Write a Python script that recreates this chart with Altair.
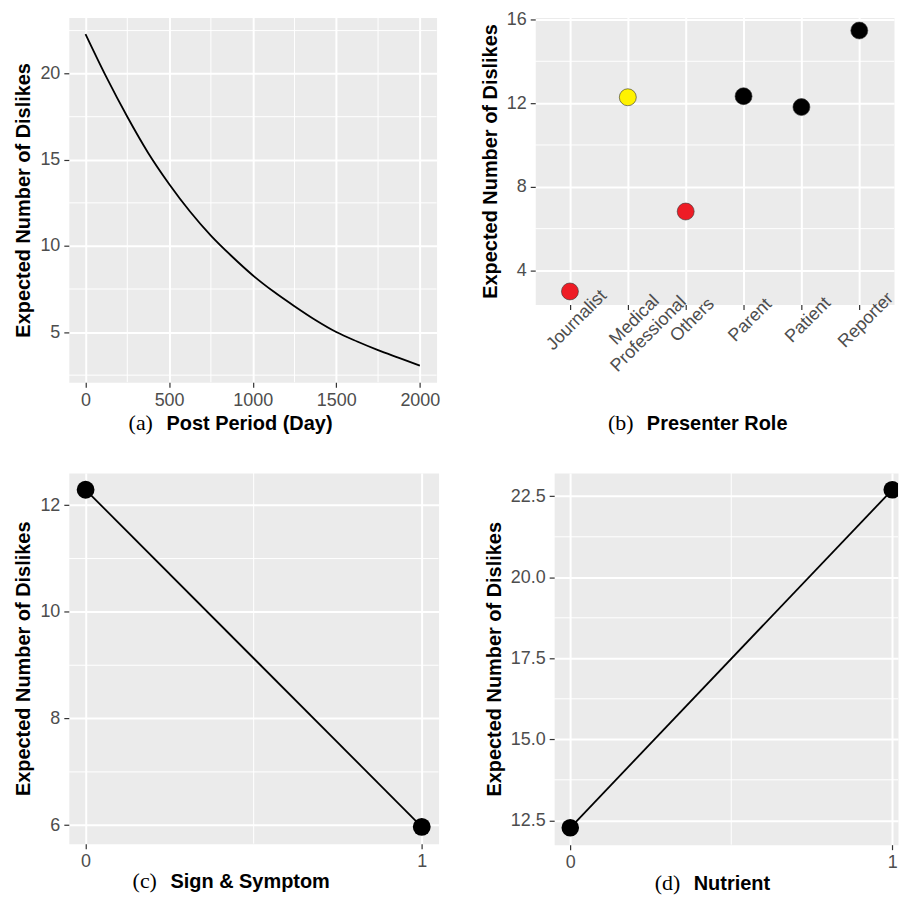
import altair as alt
import pandas as pd

# ---------------- data ----------------
post_days = [0, 125, 250, 375, 500, 625, 750, 875, 1000, 1125, 1250, 1375, 1500, 1625, 1750, 1875, 2000]
dislikes_by_day = [22.3, 19.8, 17.5, 15.4, 13.6, 12.0, 10.6, 9.4, 8.3, 7.35, 6.5, 5.7, 5.0, 4.45, 3.95, 3.5, 3.05]

roles = ["Journalist", "Medical Professional", "Others", "Parent", "Patient", "Reporter"]
dislikes_by_role = [3.0, 12.28, 6.82, 12.33, 11.81, 15.47]
role_fill = ["#EE1C25", "#FFF200", "#EE1C25", "#000000", "#000000", "#000000"]

sign_symptom = [0, 1]
dislikes_sign = [12.29, 5.97]

nutrient = [0, 1]
dislikes_nutrient = [12.27, 22.70]

panel_tags = ["(a)", "(b)", "(c)", "(d)"]
panel_titles = ["Post Period (Day)", "Presenter Role", "Sign & Symptom", "Nutrient"]

YTITLE = "Expected Number of Dislikes"
SANS = "Liberation Sans"
SERIF = "Liberation Serif"
BG = "#EBEBEB"


def expand(vals, mult=0.05):
    lo, hi = min(vals), max(vals)
    pad = (hi - lo) * mult
    return [lo - pad, hi + pad]


def minor_x(vals, scale, axis):
    return alt.Chart(pd.DataFrame({"m": vals})).mark_rule(color="white", strokeWidth=1).encode(
        x=alt.X("m:Q", scale=scale, axis=axis))


def minor_y(vals, scale, axis):
    return alt.Chart(pd.DataFrame({"m": vals})).mark_rule(color="white", strokeWidth=1).encode(
        y=alt.Y("m:Q", scale=scale, axis=axis))


def caption(i, x_tag, x_title, y):
    t1 = alt.Chart(pd.DataFrame({"t": [panel_tags[i]]})).mark_text(
        font=SERIF, fontSize=22, align="left", baseline="alphabetic", color="black"
    ).encode(text="t:N", x=alt.value(x_tag), y=alt.value(y))
    t2 = alt.Chart(pd.DataFrame({"t": [panel_titles[i]]})).mark_text(
        font=SANS, fontSize=20, fontWeight="bold", align="left", baseline="alphabetic", color="black"
    ).encode(text="t:N", x=alt.value(x_title), y=alt.value(y))
    return [t1, t2]


# ---------------- panel (a) ----------------
xs_a = alt.Scale(domain=expand(post_days), nice=False, zero=False)
ys_a = alt.Scale(domain=expand(dislikes_by_day), nice=False, zero=False)
xa_a = alt.Axis(values=[0, 500, 1000, 1500, 2000], title=None, format="d")
ya_a = alt.Axis(values=[5, 10, 15, 20], title=YTITLE)
df_a = pd.DataFrame({"day": post_days, "val": dislikes_by_day})
line_a = alt.Chart(df_a).mark_line(color="black", strokeWidth=1.8, interpolate="monotone").encode(
    x=alt.X("day:Q", scale=xs_a, axis=xa_a),
    y=alt.Y("val:Q", scale=ys_a, axis=ya_a),
)
A = alt.layer(
    minor_x([250, 750, 1250, 1750], xs_a, xa_a), minor_y([2.5, 7.5, 12.5, 17.5, 22.5], ys_a, ya_a),
    line_a, *caption(0, 60, 98, 414)
).properties(width=369, height=366)

# ---------------- panel (b) ----------------
ys_b = alt.Scale(domain=expand(dislikes_by_role), nice=False, zero=False)
ya_b = alt.Axis(values=[4, 8, 12, 16], title=YTITLE)
df_b = pd.DataFrame({"role": roles, "val": dislikes_by_role, "fill": role_fill})
pts_b = alt.Chart(df_b).mark_circle(size=290, opacity=1, stroke="#333333", strokeWidth=0.6).encode(
    x=alt.X("role:N", sort=roles, scale=alt.Scale(type="point", padding=0.6),
            axis=alt.Axis(title=None, grid=True, labelAngle=-45, labelAlign="center",
                          labelBaseline="top", labelOverlap=False, labelPadding=4,
                          labelExpr="datum.value == 'Medical Professional' ? ['Medical', 'Professional'] : datum.label")),
    y=alt.Y("val:Q", scale=ys_b, axis=ya_b),
    fill=alt.Fill("fill:N", scale=None),
)
B = alt.layer(
    minor_y([6, 10, 14], ys_b, ya_b), pts_b, *caption(1, 73, 112, 414)
).properties(width=360, height=288)

# ---------------- panel (c) ----------------
xs_c = alt.Scale(domain=expand(sign_symptom), nice=False, zero=False)
ys_c = alt.Scale(domain=expand(dislikes_sign), nice=False, zero=False)
xa_c = alt.Axis(values=[0, 1], title=None, format="d")
ya_c = alt.Axis(values=[6, 8, 10, 12], title=YTITLE)
df_c = pd.DataFrame({"x": sign_symptom, "val": dislikes_sign})
enc_c = dict(
    x=alt.X("x:Q", scale=xs_c, axis=xa_c),
    y=alt.Y("val:Q", scale=ys_c, axis=ya_c),
)
C = alt.layer(
    minor_x([0.5], xs_c, xa_c), minor_y([7, 9, 11], ys_c, ya_c),
    alt.Chart(df_c).mark_line(color="black", strokeWidth=1.8).encode(**enc_c),
    alt.Chart(df_c).mark_circle(size=320, opacity=1, color="black").encode(**enc_c),
    *caption(2, 64, 102, 416)
).properties(width=371, height=372)

# ---------------- panel (d) ----------------
xs_d = alt.Scale(domain=[-0.05, 1.018], nice=False, zero=False)
ys_d = alt.Scale(domain=expand(dislikes_nutrient), nice=False, zero=False)
xa_d = alt.Axis(values=[0, 1], title=None, format="d")
ya_d = alt.Axis(values=[12.5, 15, 17.5, 20, 22.5], title=YTITLE, format=".1f")
df_d = pd.DataFrame({"x": nutrient, "val": dislikes_nutrient})
enc_d = dict(
    x=alt.X("x:Q", scale=xs_d, axis=xa_d),
    y=alt.Y("val:Q", scale=ys_d, axis=ya_d),
)
D = alt.layer(
    minor_x([0.5], xs_d, xa_d), minor_y([13.75, 16.25, 18.75, 21.25], ys_d, ya_d),
    alt.Chart(df_d).mark_line(color="black", strokeWidth=1.8, clip=True).encode(**enc_d),
    alt.Chart(df_d).mark_circle(size=310, opacity=1, color="black", clip=True).encode(**enc_d),
    *caption(3, 101, 140, 418)
).properties(width=345, height=373)

row1 = alt.hconcat(A, B, spacing=39)
row2 = alt.hconcat(C, D, spacing=44)
chart = alt.vconcat(row1, row2, spacing=37).properties(
    padding={"left": 5, "top": 0, "right": 0, "bottom": 0}
).configure_axis(
    labelFont=SANS, labelFontSize=18, labelColor="#4D4D4D",
    titleFont=SANS, titleFontSize=20, titleFontWeight="bold", titleColor="black",
    tickColor="#333333", tickSize=5, tickWidth=1.2,
    domain=False, gridColor="white", gridWidth=2, gridOpacity=1,
    labelPadding=4, titlePadding=6, labelFlush=False,
).configure_view(fill=BG, stroke="transparent")

chart.save("out.html", embed_options={"renderer": "svg", "actions": False})
